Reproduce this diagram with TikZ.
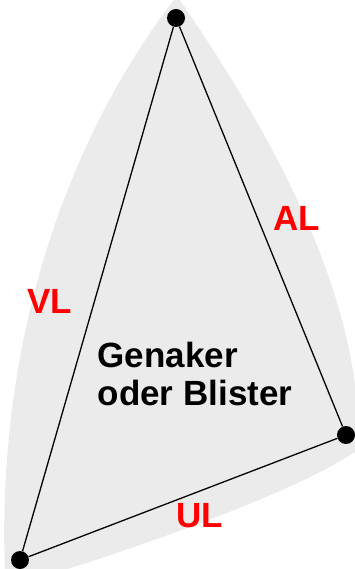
\documentclass[tikz,border=0pt]{standalone}
\usepackage{fontspec}
\setmainfont{Liberation Sans}
\usetikzlibrary{positioning}
\definecolor{segelgrau}{HTML}{EBEBEB}
\definecolor{liekrot}{HTML}{FF0000}
\tikzset{
  ecke/.style={circle,fill=black,inner sep=0pt,minimum size=18pt},
  liek/.style={black,line width=1.3pt},
  gross/.style={font=\fontsize{35}{38}\selectfont\bfseries},
  lieklabel/.style={gross,text=liekrot},
}
\begin{document}
\begin{tikzpicture}[x=1pt,y=-1pt]
\useasboundingbox (0,0) rectangle (355,569);
% Segelflaeche
\fill[segelgrau] (177,-4) .. controls (270,130) and (365,300) .. (358,450)
  .. controls (300,490) and (150,545) .. (0,590) -- (5,575)
  .. controls (-5,320) and (80,120) .. (177,-4) -- cycle;

\node[ecke] (kopf) at (176,18) {};
\node[ecke] (schothorn) at (346,435) {};
\node[ecke] (hals) at (20,560) {};
\draw[liek] (hals) -- (kopf) -- (schothorn) -- (hals);

\node[lieklabel] (vl) at (50,301) {VL};
\node[lieklabel] (al) at (297,218) {AL};
\node[lieklabel] (ul) at (200,516) {UL};

\node[gross,align=left] (segel) at (195,374) {Genaker\\oder Blister};
\end{tikzpicture}
\end{document}
